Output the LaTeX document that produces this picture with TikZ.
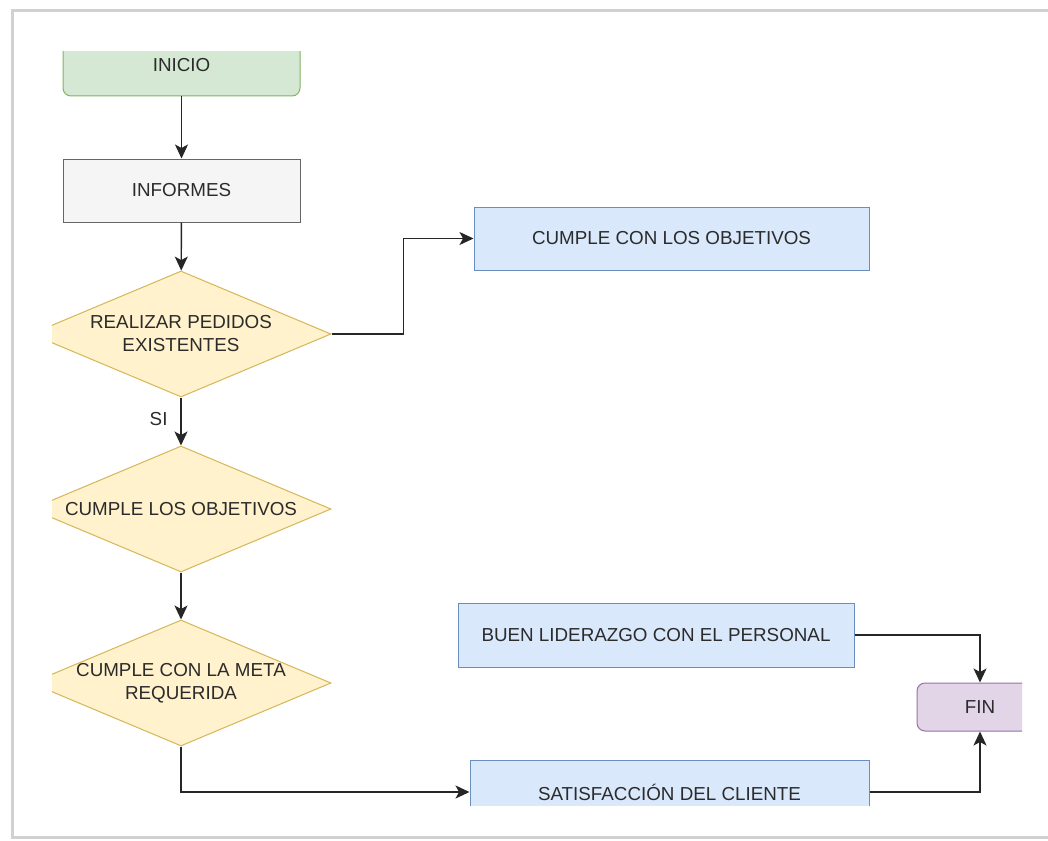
\documentclass[tikz,border=0pt]{standalone}
\usepackage{fontspec}
\setmainfont{Liberation Sans}
\usetikzlibrary{shapes.geometric,arrows.meta}
\definecolor{txt}{HTML}{2B2B2B}
\definecolor{gfill}{HTML}{D5E8D4}\definecolor{gline}{HTML}{82B366}
\definecolor{grfill}{HTML}{F5F5F5}\definecolor{grline}{HTML}{666666}
\definecolor{yfill}{HTML}{FFF2CC}\definecolor{yline}{HTML}{D6B656}
\definecolor{bfill}{HTML}{DAE8FC}\definecolor{bline}{HTML}{6C8EBF}
\definecolor{pfill}{HTML}{E1D5E7}\definecolor{pline}{HTML}{9673A6}
\tikzset{
  base/.style={font=\fontsize{18.8}{23}\selectfont, text=txt, align=center, line width=1pt, inner sep=0pt},
  startbox/.style={base, draw=gline, fill=gfill, rounded corners=8pt, minimum width=237pt, minimum height=62pt},
  graybox/.style={base, draw=grline, fill=grfill, minimum width=237pt, minimum height=63pt},
  decbox/.style={base, diamond, shape aspect=2.4, inner xsep=-20pt, draw=yline, fill=yfill, minimum width=300pt, minimum height=126pt},
  bluebox/.style={base, draw=bline, fill=bfill, minimum height=63pt},
  endbox/.style={base, draw=pline, fill=pfill, rounded corners=8pt, minimum width=126pt, minimum height=48pt},
  conn/.style={line width=1.4pt, draw=black!85, -{Stealth[length=14pt,width=13pt,inset=3.5pt]}},
}
\begin{document}
\begin{tikzpicture}[x=1pt,y=-1pt]
\useasboundingbox (0,0) rectangle (1048,840);
\fill[white] (0,0) rectangle (1048,840);
\draw[black!18, line width=3pt] (12,11) rectangle (1062,837);
\begin{scope}
\clip (52,52) rectangle (1022,805);
\node[startbox] (inicio) at (181.5,65) {INICIO};
\node[graybox] (informes) at (181.5,190.5) {INFORMES};
\node[decbox] (d1) at (181,334) {REALIZAR PEDIDOS\\EXISTENTES};
\node[decbox] (d2) at (181,509) {CUMPLE LOS OBJETIVOS};
\node[decbox] (d3) at (181,683) {CUMPLE CON LA META\\REQUERIDA};
\node[bluebox, minimum width=395pt] (cumple) at (671.5,238.5) {CUMPLE CON LOS OBJETIVOS};
\node[bluebox, minimum width=396pt, minimum height=64pt] (buen) at (656,635) {BUEN LIDERAZGO CON EL PERSONAL};
\node[bluebox, minimum width=399pt] (satis) at (669.5,792) {SATISFACCIÓN DEL CLIENTE};
\node[endbox] (fin) at (980,707) {FIN};

\draw[conn] (inicio) -- (informes);
\draw[conn] (informes) -- (d1);
\draw[conn] (d1.east) -- ++(72,0) |- (cumple.west);
\draw[conn] (d1) -- node[base, pos=0.45, left=13pt] (si) {SI} (d2);
\draw[conn] (d2) -- (d3);
\draw[conn] (d3.south) |- (satis.west);
\draw[conn] (satis.east) -| (fin.south);
\draw[conn] (buen.east) -| (fin.north);
\end{scope}
\end{tikzpicture}
\end{document}
